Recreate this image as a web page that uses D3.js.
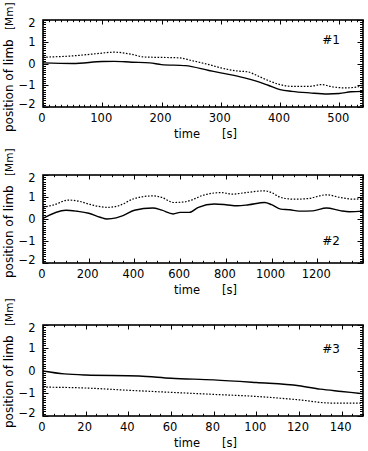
<!DOCTYPE html>
<html><head><meta charset="utf-8">
<script src="https://cdn.jsdelivr.net/npm/d3@7"></script>
<style>
html,body{margin:0;padding:0;background:#fff;}
svg{display:block;}
text{font-family:"DejaVu Sans",sans-serif;fill:#000;}
</style></head>
<body>
<svg id="chart" width="368" height="451"></svg>
<script>
// ---- Data ----
const panelLabels = ["#1", "#2", "#3"];
const xDomains = [[0, 540], [0, 1400], [0, 150]];
const yDomain = [-2, 2];
const xMajorSteps = [100, 200, 20];
const xMinorSteps = [10, 50, 5];
const xTickLabels = [
  [0, 100, 200, 300, 400, 500],
  [0, 200, 400, 600, 800, 1000, 1200],
  [0, 20, 40, 60, 80, 100, 120, 140]
];
const yTickLabels = [-2, -1, 0, 1, 2];

const p1Time   = [0, 50, 100, 120, 150, 180, 200, 240, 280, 300, 340, 360, 380, 400, 420, 450, 480, 500, 520, 540];
const p1Solid  = [0.03, 0.0, 0.09, 0.1, 0.06, 0.03, -0.05, -0.1, -0.32, -0.43, -0.66, -0.81, -1.0, -1.2, -1.28, -1.35, -1.4, -1.38, -1.3, -1.28];
const p1DotTime = [0, 50, 90, 120, 150, 170, 200, 230, 250, 280, 300, 330, 345, 360, 380, 400, 420, 450, 470, 490, 510, 530, 540];
const p1Dotted = [0.29, 0.35, 0.45, 0.52, 0.42, 0.3, 0.28, 0.26, 0.14, -0.05, -0.2, -0.35, -0.38, -0.54, -0.78, -0.97, -1.05, -1.05, -0.97, -1.08, -1.12, -1.08, -0.98];

const p2Time   = [0, 100, 150, 200, 250, 280, 320, 350, 400, 480, 520, 570, 600, 640, 680, 750, 800, 850, 900, 970, 1000, 1040, 1080, 1120, 1180, 1240, 1300, 1340, 1400];
const p2Solid  = [0.03, 0.4, 0.35, 0.26, 0.08, 0.0, 0.05, 0.15, 0.4, 0.5, 0.4, 0.23, 0.3, 0.3, 0.53, 0.68, 0.65, 0.6, 0.65, 0.75, 0.65, 0.45, 0.42, 0.36, 0.37, 0.5, 0.38, 0.33, 0.36];
const p2DotTime = [0, 50, 110, 160, 200, 250, 280, 330, 400, 480, 520, 570, 620, 650, 700, 780, 830, 880, 970, 1000, 1040, 1100, 1160, 1240, 1300, 1360, 1400];
const p2Dotted = [0.53, 0.65, 0.86, 0.8, 0.68, 0.56, 0.53, 0.6, 0.93, 1.05, 0.98, 0.75, 0.78, 0.86, 1.08, 1.2, 1.13, 1.19, 1.28, 1.2, 0.98, 0.9, 0.93, 1.1, 0.98, 0.9, 0.95];

const p3Time   = [0, 10, 20, 45, 60, 80, 100, 120, 130, 140, 150];
const p3Solid  = [-0.02, -0.15, -0.2, -0.24, -0.34, -0.41, -0.53, -0.67, -0.82, -0.92, -1.02];
const p3DotTime = [0, 20, 40, 60, 80, 100, 120, 135, 150];
const p3Dotted = [-0.73, -0.77, -0.87, -0.96, -1.05, -1.14, -1.29, -1.43, -1.43];

const solidSeries = [[p1Time, p1Solid], [p2Time, p2Solid], [p3Time, p3Solid]];
const dottedSeries = [[p1DotTime, p1Dotted], [p2DotTime, p2Dotted], [p3DotTime, p3Dotted]];

// ---- Layout ----
const left = 43, right = 363;
const frames = [[20, 107], [175, 263], [325, 416]];
const titleBottoms = [132, 278, 428];
const svg = d3.select("#chart");

function ticksBetween(d, step) {
  const out = [];
  const n = Math.round((d[1] - d[0]) / step);
  for (let i = 0; i <= n; i++) out.push(d[0] + i * step);
  return out;
}

frames.forEach((fr, i) => {
  const [top, bottom] = fr;
  const x = d3.scaleLinear().domain(xDomains[i]).range([left, right]);
  const y = d3.scaleLinear().domain(yDomain).range([bottom, top]);
  const g = svg.append("g");

  // lines
  const line = d3.line().x(d => x(d[0])).y(d => y(d[1])).curve(d3.curveMonotoneX);
  const sd = solidSeries[i][0].map((t, k) => [t, solidSeries[i][1][k]]);
  const dd = dottedSeries[i][0].map((t, k) => [t, dottedSeries[i][1][k]]);
  g.append("path").attr("d", line(sd)).attr("fill", "none").attr("stroke", "#000").attr("stroke-width", 1.4);
  g.append("path").attr("d", line(dd)).attr("fill", "none").attr("stroke", "#000").attr("stroke-width", 1.2).attr("stroke-dasharray", "1.6,1.6");

  // x ticks (bottom & top, inward)
  const xMinor = ticksBetween(xDomains[i], xMinorSteps[i]);
  const xMajorSet = new Set(ticksBetween([xDomains[i][0], xDomains[i][1] - (xDomains[i][1] % xMajorSteps[i])], xMajorSteps[i]));
  xMinor.forEach(v => {
    const L = xMajorSet.has(v) ? 4.5 : 2.2;
    const px = Math.round(x(v)) + 0.5;
    g.append("line").attr("x1", px).attr("x2", px).attr("y1", bottom).attr("y2", bottom - L).attr("stroke", "#000").attr("stroke-width", 1);
    g.append("line").attr("x1", px).attr("x2", px).attr("y1", top).attr("y2", top + L).attr("stroke", "#000").attr("stroke-width", 1);
  });
  // y ticks (left & right, inward)
  const yMinor = d3.range(-20, 21).map(k => k / 10);
  yMinor.forEach(v => {
    const major = Math.abs(v - Math.round(v)) < 1e-9;
    const L = major ? 5.5 : 3;
    const py = Math.round(y(v)) + 0.5;
    g.append("line").attr("x1", left).attr("x2", left + L).attr("y1", py).attr("y2", py).attr("stroke", "#000").attr("stroke-width", 1);
    g.append("line").attr("x1", right).attr("x2", right - L).attr("y1", py).attr("y2", py).attr("stroke", "#000").attr("stroke-width", 1);
  });

  // frame
  g.append("rect").attr("x", left).attr("y", top).attr("width", right - left).attr("height", bottom - top)
    .attr("fill", "none").attr("stroke", "#000").attr("stroke-width", 1.6);

  // x tick labels
  xTickLabels[i].forEach(v => {
    g.append("text").attr("x", x(v) - 1).attr("y", bottom + 15).attr("text-anchor", "middle")
      .attr("font-size", 11.5).text(d3.format("d")(v));
  });
  // y tick labels
  yTickLabels.forEach(v => {
    const py = Math.min(Math.max(y(v), top + 3), bottom - 3);
    g.append("text").attr("x", 35.5).attr("y", py + 4).attr("text-anchor", "end")
      .attr("font-size", 11.5).text(v < 0 ? "\u2212" + Math.abs(v) : String(v));
  });

  // x title
  g.append("text").attr("x", 187).attr("y", bottom + 31).attr("text-anchor", "middle").attr("font-size", 11.5).text("time");
  g.append("text").attr("x", 229.5).attr("y", bottom + 31).attr("text-anchor", "middle").attr("font-size", 11.5).text("[s]");

  // y title
  const tb = titleBottoms[i];
  g.append("text").attr("transform", `translate(12.5,${tb}) rotate(-90)`).attr("text-anchor", "start")
    .attr("font-size", 12).text("position of limb");
  g.append("text").attr("transform", `translate(12.5,${tb - 102}) rotate(-90)`).attr("text-anchor", "start")
    .attr("font-size", 10.5).text("[Mm]");

  // panel label
  const labY = [39, 240, 348][i];
  g.append("text").attr("x", 331).attr("y", labY + 5).attr("text-anchor", "middle").attr("font-size", 12).text(panelLabels[i]);
});
</script>
</body></html>
